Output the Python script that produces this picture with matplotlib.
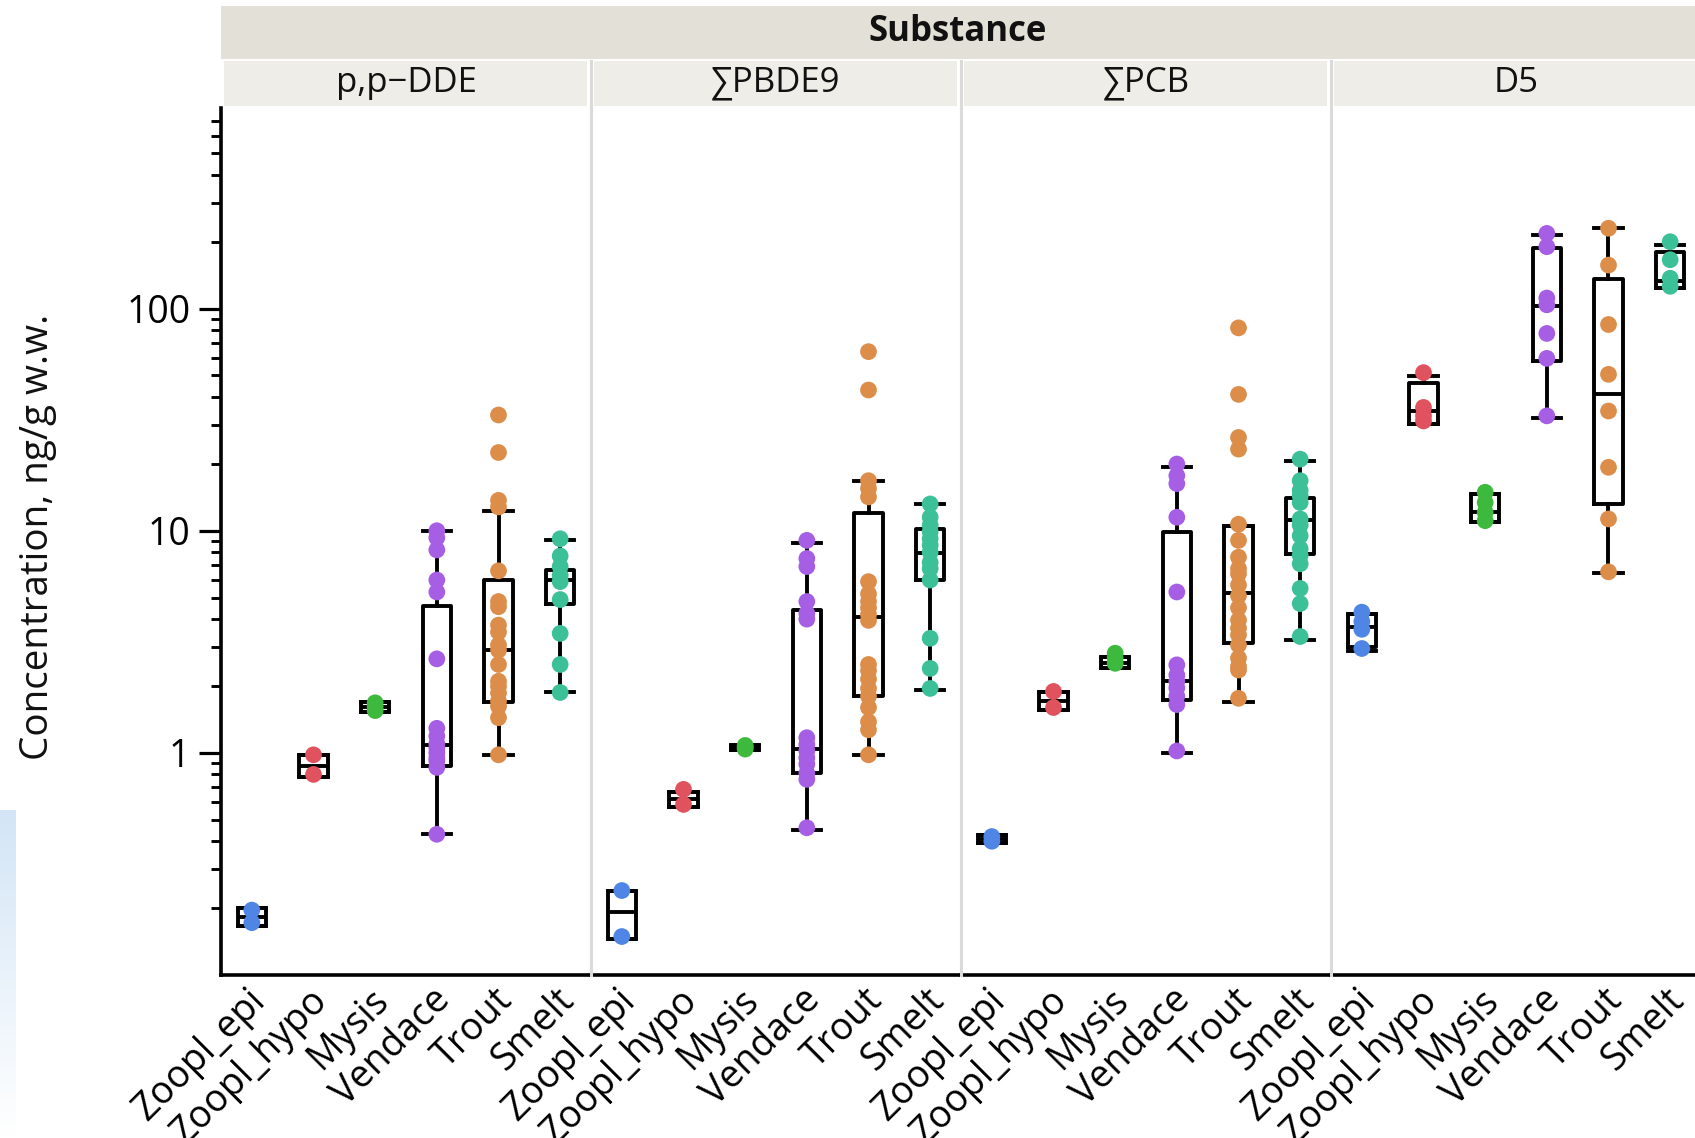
import numpy as np
import matplotlib
matplotlib.use("Agg")
import matplotlib.pyplot as plt
from matplotlib.patches import Rectangle
from matplotlib.ticker import FixedLocator, NullFormatter
from matplotlib.transforms import ScaledTranslation
from matplotlib.colors import LinearSegmentedColormap

plt.rcParams['font.family'] = ['Open Sans', 'DejaVu Sans']

substances = ["p,p\u2212DDE", "\u2211PBDE9", "\u2211PCB", "D5"]
groups = ["Zoopl_epi", "Zoopl_hypo", "Mysis", "Vendace", "Trout", "Smelt"]
group_colors = ["#4f86e6", "#e0525e", "#3dba3d", "#a65fe4", "#dc8d4a", "#3cc097"]

# ---- measured concentrations (ng/g w.w.) per substance, per group ----
dde_values = [
    [0.196, 0.172],
    [0.98, 0.80],
    [1.68, 1.61, 1.55],
    [10.0, 9.3, 8.2, 6.0, 5.3, 2.65, 1.29, 1.19, 1.1, 1.05, 1.0, 0.95, 0.92, 0.86, 0.43],
    [33.2, 22.5, 13.7, 12.8, 6.6, 4.8, 4.55, 3.76, 3.5, 3.06, 2.9, 2.5, 2.1, 1.99, 1.86, 1.71, 1.62, 1.44, 0.98],
    [9.2, 7.7, 6.9, 6.3, 5.9, 4.9, 3.45, 2.5, 1.87],
]
pbde_values = [
    [0.24, 0.149],
    [0.685, 0.586],
    [1.08, 1.06, 1.04],
    [9.05, 7.5, 6.9, 4.8, 4.25, 4.0, 1.17, 1.09, 1.02, 0.95, 0.89, 0.81, 0.76, 0.46],
    [64, 43, 16.8, 15.5, 14.2, 5.9, 5.2, 4.8, 4.5, 4.2, 3.95, 2.5, 2.35, 2.15, 1.95, 1.8, 1.6, 1.38, 1.27, 0.98],
    [13.2, 11.5, 10.6, 9.9, 9.2, 8.6, 8.0, 7.2, 6.75, 6.0, 3.28, 2.4, 1.95],
]
pcb_values = [
    [0.42, 0.40],
    [1.89, 1.60],
    [2.81, 2.67, 2.53],
    [19.97, 17.7, 16.3, 11.5, 5.3, 2.49, 2.24, 2.1, 1.96, 1.8, 1.65, 1.02],
    [81.9, 41.1, 26.3, 23.3, 10.7, 9.05, 7.6, 6.75, 6.4, 5.7, 5.1, 4.5, 3.96, 3.64, 3.4, 3.06, 2.67, 2.45, 2.36, 1.76],
    [21.0, 16.8, 15.2, 14.4, 13.4, 11.3, 10.6, 9.5, 8.3, 7.75, 7.1, 5.5, 4.7, 3.34],
]
d5_values = [
    [4.3, 3.9, 3.6, 2.95],
    [51.5, 35.9, 32.9, 31.2],
    [14.9, 13.4, 12.1, 11.1],
    [218, 190, 111.6, 104, 77.3, 59.7, 32.9],
    [230, 157, 84.8, 50.6, 34.6, 19.3, 11.3, 6.53],
    [200, 166, 137, 126],
]

# ---- box statistics as drawn (q1, median, q3, whisker low, whisker high) ----
dde_q1 = [0.166, 0.78, 1.52, 0.87, 1.69, 4.67]
dde_med = [0.183, 0.875, 1.61, 1.08, 2.9, 5.98]
dde_q3 = [0.200, 0.975, 1.70, 4.58, 6.0, 6.69]
dde_lo = [0.166, 0.78, 1.52, 0.43, 0.98, 1.87]
dde_hi = [0.200, 0.975, 1.70, 10.0, 12.3, 9.1]

pbde_q1 = [0.1455, 0.573, 1.03, 0.813, 1.80, 5.99]
pbde_med = [0.192, 0.617, 1.06, 1.04, 4.1, 7.94]
pbde_q3 = [0.24, 0.667, 1.08, 4.39, 12.0, 10.2]
pbde_lo = [0.1455, 0.573, 1.03, 0.45, 0.98, 1.92]
pbde_hi = [0.24, 0.667, 1.08, 8.8, 16.8, 13.2]

pcb_q1 = [0.392, 1.56, 2.42, 1.73, 3.11, 7.88]
pcb_med = [0.41, 1.71, 2.55, 2.11, 5.26, 11.2]
pcb_q3 = [0.428, 1.87, 2.71, 9.87, 10.45, 14.1]
pcb_lo = [0.392, 1.56, 2.42, 1.0, 1.69, 3.22]
pcb_hi = [0.428, 1.87, 2.71, 19.3, 10.45, 20.7]

d5_q1 = [3.0, 30.2, 10.9, 58, 13.2, 124]
d5_med = [3.7, 34.6, 12.1, 103, 41.1, 132.6]
d5_q3 = [4.2, 46.1, 14.6, 187, 136, 179]
d5_lo = [2.88, 30.2, 10.9, 32.3, 6.46, 124]
d5_hi = [4.2, 49.7, 14.6, 215, 230, 194]

all_values = [dde_values, pbde_values, pcb_values, d5_values]
all_stats = [
    (dde_q1, dde_med, dde_q3, dde_lo, dde_hi),
    (pbde_q1, pbde_med, pbde_q3, pbde_lo, pbde_hi),
    (pcb_q1, pcb_med, pcb_q3, pcb_lo, pcb_hi),
    (d5_q1, d5_med, d5_q3, d5_lo, d5_hi),
]

y_ticks = [1, 10, 100]
y_tick_labels = ["1", "10", "100"]

# ---- figure layout (pixel based) ----
W, H = 1695, 1138
fig = plt.figure(figsize=(W / 100, H / 100), dpi=100)
fig.patch.set_facecolor("white")

def fx(px):
    return px / W

def fy(py):
    return 1 - py / H

ax_left0 = 221
panel_w = 370
ax_top, ax_bot = 108, 975

# faint blue screen artifact at the far left
grad_ax = fig.add_axes([0, fy(1138), fx(16), fy(810) - fy(1138)])
grad = np.linspace(0, 1, 100).reshape(-1, 1)
cm = LinearSegmentedColormap.from_list("g", ["#d3e5f6", "#ffffff"])
grad_ax.imshow(grad, aspect="auto", cmap=cm)
grad_ax.set_axis_off()

# header band
fig.patches.append(Rectangle((fx(ax_left0), fy(59)), fx(W + 50) - fx(ax_left0), fy(6) - fy(59),
                             transform=fig.transFigure, facecolor="#e3e0d7", edgecolor="none", zorder=0))
fig.text(fx(ax_left0 + (W - ax_left0) / 2), fy(32), "Substance", ha="center", va="center",
         fontsize=25, fontweight="bold", color="#111111")

tick_fs = 27
strip_fs = 25
lw = 2.8
axes = []
for i, sub in enumerate(substances):
    left = ax_left0 + i * panel_w
    ax = fig.add_axes([fx(left), fy(ax_bot), fx(panel_w), fy(ax_top) - fy(ax_bot)])
    axes.append(ax)
    # strip label
    fig.patches.append(Rectangle((fx(left + 3), fy(106)), fx(panel_w - 7), fy(61) - fy(106),
                                 transform=fig.transFigure, facecolor="#efede7", edgecolor="none", zorder=0))
    fig.text(fx(left + panel_w / 2), fy(83), sub, ha="center", va="center", fontsize=strip_fs,
             color="#111111", family=['Open Sans', 'DejaVu Sans'])
    if i > 0:
        fig.lines.append(plt.Line2D([fx(left), fx(left)], [fy(ax_bot), fy(61)],
                                    transform=fig.transFigure, color="#dadada", lw=2.2, zorder=1))

    q1, med, q3, lo, hi = all_stats[i]
    stats = []
    for j in range(len(groups)):
        stats.append(dict(q1=q1[j], med=med[j], q3=q3[j], whislo=lo[j], whishi=hi[j], fliers=[]))
    ax.bxp(stats, positions=np.arange(len(groups)), widths=0.46, capwidths=0.46,
           showfliers=False, patch_artist=False,
           boxprops=dict(color="black", linewidth=lw),
           medianprops=dict(color="black", linewidth=lw),
           whiskerprops=dict(color="black", linewidth=lw),
           capprops=dict(color="black", linewidth=lw),
           manage_ticks=False, zorder=2)
    for j, vals in enumerate(all_values[i]):
        ax.scatter(np.full(len(vals), j), vals, s=145, color=group_colors[j],
                   edgecolors="none", zorder=3, clip_on=False)

    ax.set_yscale("log")
    ax.set_ylim(0.1, 800)
    ax.set_xlim(-0.5, len(groups) - 0.5)
    ax.set_xticks(np.arange(len(groups)))
    ax.set_xticklabels(groups, rotation=45, ha="right", va="center", rotation_mode="anchor",
                       fontsize=tick_fs)
    ax.tick_params(axis="x", length=0, pad=14)
    offset = ScaledTranslation(8 / 100, 0, fig.dpi_scale_trans)
    for lab in ax.get_xticklabels():
        lab.set_transform(lab.get_transform() + offset)
    for s in ["top", "right"]:
        ax.spines[s].set_visible(False)
    ax.spines["bottom"].set_linewidth(2.6)
    ax.spines["bottom"].set_color("black")
    ax.yaxis.set_major_locator(FixedLocator(y_ticks))
    minor = [m * 10.0 ** e for e in range(-1, 3) for m in range(2, 10) if m * 10.0 ** e < 800]
    ax.yaxis.set_minor_locator(FixedLocator(minor))
    ax.yaxis.set_minor_formatter(NullFormatter())
    if i == 0:
        ax.spines["left"].set_linewidth(2.6)
        ax.spines["left"].set_color("black")
        ax.set_yticklabels(y_tick_labels, fontsize=tick_fs)
        ax.tick_params(axis="y", which="major", length=16, width=2.3, pad=6)
        ax.tick_params(axis="y", which="minor", length=7, width=2.1)
    else:
        ax.spines["left"].set_visible(False)
        ax.tick_params(axis="y", which="both", left=False, labelleft=False)
    ax.set_facecolor("none")

fig.text(fx(38), (fy(ax_top) + fy(ax_bot)) / 2 + 0.004, "Concentration, ng/g w.w.", rotation=90,
         ha="center", va="center", fontsize=27.8, color="#111111")

fig.savefig("out.png", dpi=100)
